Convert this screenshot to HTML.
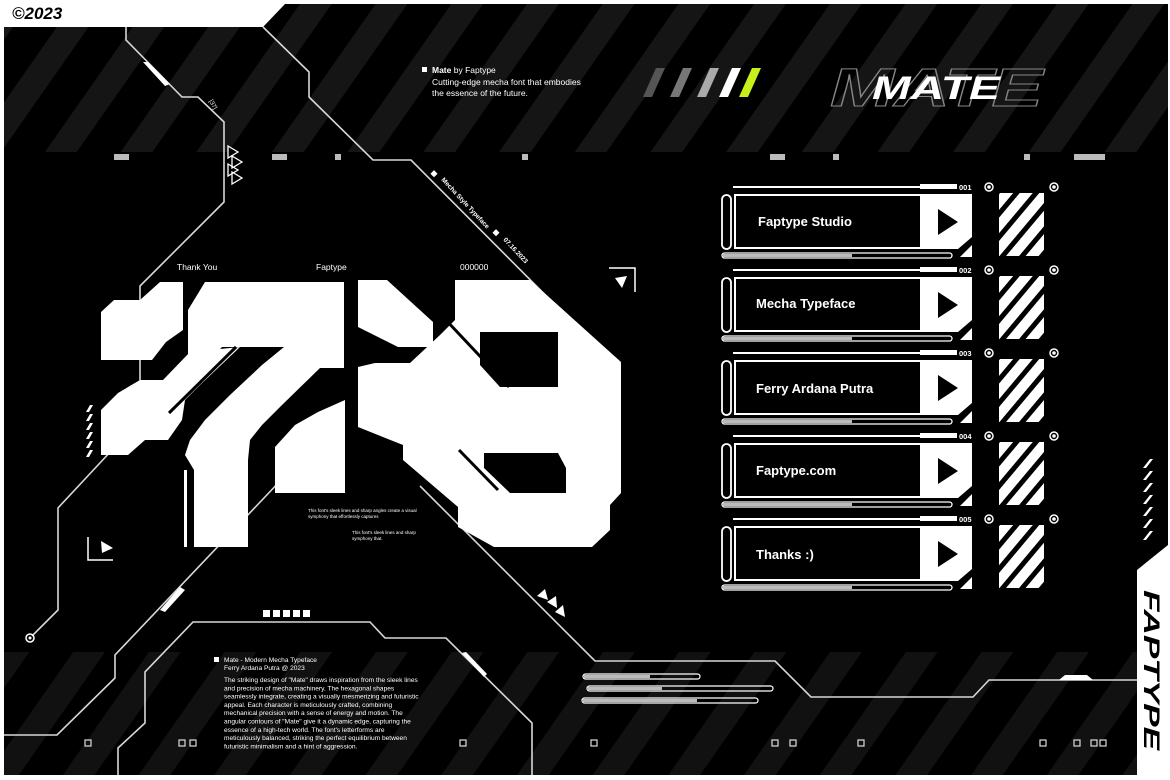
<!DOCTYPE html>
<html><head><meta charset="utf-8"><style>
html,body{margin:0;padding:0;background:#fff;}
svg{display:block;font-family:"Liberation Sans",sans-serif;}
</style></head><body>
<svg width="1170" height="780" viewBox="0 0 1170 780" xmlns="http://www.w3.org/2000/svg">
<defs>
<pattern id="st" width="62" height="62" patternUnits="userSpaceOnUse" patternTransform="rotate(35)"><rect width="26" height="62" fill="#151515"/></pattern>
<pattern id="sb" width="15" height="15" patternUnits="userSpaceOnUse" patternTransform="rotate(40)"><rect width="15" height="15" fill="#fff"/><rect width="5" height="15" fill="#000"/></pattern>
<g id="card">
  <line x1="733" y1="0" x2="920" y2="0" stroke="#fff" stroke-width="2"/>
  <rect x="920" y="-3" width="37" height="5" fill="#fff"/>
  <circle cx="989" cy="0" r="4" fill="none" stroke="#fff" stroke-width="1.5"/><circle cx="989" cy="0" r="1.8" fill="#fff"/>
  <circle cx="1054" cy="0" r="4" fill="none" stroke="#fff" stroke-width="1.5"/><circle cx="1054" cy="0" r="1.8" fill="#fff"/>
  <rect x="722" y="8" width="9" height="54" rx="4.5" fill="none" stroke="#fff" stroke-width="1.8"/>
  <rect x="735" y="8" width="200" height="53" fill="none" stroke="#fff" stroke-width="2"/>
  <polygon points="920,7 972,7 972,50 958,62 920,62" fill="#fff"/>
  <polygon points="938,22 958,35 938,48" fill="#000"/>
  <polygon points="960,70 972,58 972,70" fill="#fff"/>
  <rect x="722" y="66" width="230" height="5" rx="2.5" fill="none" stroke="#fff" stroke-width="1.3"/>
  <rect x="723" y="67" width="129" height="3" fill="#bbb"/>
  <rect x="999" y="6" width="45" height="63" fill="url(#sb)"/>
</g>
</defs>
<rect width="1170" height="780" fill="#fff"/>
<polygon points="4,27 263,27 285,4 1168,4 1168,545 1137,570 1137,775 4,775" fill="#000"/>
<polygon points="4,27 263,27 285,4 1168,4 1168,152 4,152" fill="url(#st)"/>
<rect x="4" y="652" width="1133" height="123" fill="url(#st)" opacity="0.8"/>

<text x="12" y="19" font-size="17" font-weight="bold" font-style="italic" fill="#000">©2023</text>

<!-- lines -->
<g fill="none" stroke="#d8d8d8" stroke-width="1.6">
<polyline points="126,27 126,40 182,97 198,97 224,122 224,202 140,286 140,420 58,508 58,610 32,636"/>
<polyline points="4,735 57,735 115,678 115,655 300,460"/>
<polyline points="263,27 309,72 309,97 373,160 411,160 610,360"/>
<polyline points="420,486 595,661 775,661 811,697 973,697 989,680 1137,680"/>
<polyline points="118,775 118,748 145,723 145,672 193,622 370,622 385,638 446,638 532,723 532,775"/>
</g>
<circle cx="30" cy="638" r="4" fill="none" stroke="#fff" stroke-width="1.5"/><circle cx="30" cy="638" r="1.5" fill="#fff"/>
<polygon points="143,62 148,62 170,84 165,86" fill="#fff"/>
<polygon points="160,610 180,587 185,590 165,612" fill="#fff"/>
<polygon points="462,653 466,652 487,674 484,677" fill="#fff"/>
<polygon points="1059,680 1065,675 1087,675 1093,680" fill="#fff"/>
<text x="0" y="0" font-size="6" fill="#fff" transform="translate(209,101) rotate(60)">[37]</text>
<g fill="none" stroke="#fff" stroke-width="1.3">
<polygon points="228,146 238,152 228,158"/><polygon points="232,156 242,162 232,168"/>
<polygon points="228,164 238,170 228,176"/><polygon points="232,172 242,178 232,184"/>
</g>

<!-- gray rects -->
<g fill="#bbb">
<rect x="114" y="154" width="15" height="6"/><rect x="272" y="154" width="15" height="6"/><rect x="335" y="154" width="6" height="6"/><rect x="522" y="154" width="6" height="6"/>
<rect x="770" y="154" width="15" height="6"/><rect x="833" y="154" width="6" height="6"/><rect x="1024" y="154" width="6" height="6"/><rect x="1074" y="154" width="31" height="6"/>
</g>

<!-- top info -->
<rect x="422" y="67" width="5" height="5" fill="#fff"/>
<text x="432" y="73" font-size="8.5" fill="#fff"><tspan font-weight="bold">Mate</tspan> by Faptype</text>
<text x="432" y="85" font-size="8.5" fill="#fff">Cutting-edge mecha font that embodies</text>
<text x="432" y="96" font-size="8.5" fill="#fff">the essence of the future.</text>
<polygon points="643,97 652,97 665,68 656,68" fill="#555"/>
<polygon points="670,97 679,97 692,68 683,68" fill="#777"/>
<polygon points="697,97 706,97 719,68 710,68" fill="#aaa"/>
<polygon points="719,97 728,97 741,68 732,68" fill="#fff"/>
<polygon points="739,97 748,97 761,68 752,68" fill="#c6ef1c"/>
<text x="830" y="106" font-size="54" font-weight="bold" font-style="italic" fill="none" stroke="#888" stroke-width="1" textLength="213" lengthAdjust="spacingAndGlyphs">MATE</text>
<text x="872" y="99" font-size="32" font-weight="bold" font-style="italic" fill="#fff" textLength="128" lengthAdjust="spacingAndGlyphs">MATE</text>

<!-- diagonal text -->
<rect x="432" y="171" width="5" height="5" fill="#fff" transform="rotate(45 434 173)"/>
<text font-size="6.5" font-weight="bold" fill="#fff" transform="translate(441,180) rotate(47)">Mecha Style Typeface</text>
<rect x="494" y="230" width="5" height="5" fill="#fff" transform="rotate(45 496 232)"/>
<text font-size="6.5" font-weight="bold" fill="#fff" transform="translate(503,240) rotate(47)">07.16.2023</text>

<text x="177" y="270" font-size="8.5" fill="#fff">Thank You</text>
<text x="316" y="270" font-size="8.5" fill="#fff">Faptype</text>
<text x="460" y="270" font-size="8.5" fill="#fff">000000</text>

<!-- brackets -->
<polyline points="609,268 635,268 635,292" fill="none" stroke="#fff" stroke-width="1.5"/>
<polygon points="615,278 627,276 622,288" fill="#fff"/>
<polyline points="88,537 88,560 113,560" fill="none" stroke="#fff" stroke-width="1.5"/>
<polygon points="101,541 113,548 102,553" fill="#fff"/>
<g fill="#fff">
<polygon points="86,412 90,405 93,405 89,412"/><polygon points="86,421 90,414 93,414 89,421"/><polygon points="86,430 90,423 93,423 89,430"/><polygon points="86,439 90,432 93,432 89,439"/><polygon points="86,448 90,441 93,441 89,448"/><polygon points="86,457 90,450 93,450 89,457"/>
<polygon points="1143,468 1150,459 1153,459 1146,468"/><polygon points="1143,480 1150,471 1153,471 1146,480"/><polygon points="1143,492 1150,483 1153,483 1146,492"/><polygon points="1143,504 1150,495 1153,495 1146,504"/><polygon points="1143,516 1150,507 1153,507 1146,516"/><polygon points="1143,528 1150,519 1153,519 1146,528"/><polygon points="1143,540 1150,531 1153,531 1146,540"/>
</g>

<!-- glyphs -->
<g fill="#fff">
<polygon points="101,312 114,300 140,300 160,282 183,282 183,330 166,342 152,360 101,360"/>
<polygon points="101,410 118,393 140,380 163,380 190,352 240,347 200,385 185,400 182,420 168,440 145,440 128,455 101,455"/>
<polygon points="188,335 188,310 205,282 344,282 344,368 320,368 282,405 262,425 250,440 248,460 248,547 194,547 194,470 185,455 190,440 205,420 230,395 262,365 284,347 222,347 200,370 188,370"/>
<rect x="184" y="470" width="3" height="77"/>
<polygon points="275,493 275,447 295,425 318,412 345,400 345,493"/>
<polygon points="358,280 387,280 433,322 433,347 398,347 358,327"/>
<polygon points="455,280 530,280 621,362 621,493 610,505 610,530 592,547 494,547 458,527 458,507 403,460 403,445 358,427 358,367 375,363 410,363 440,335 455,320"/>
</g>
<g fill="#000">
<polygon points="480,332 558,332 558,387 500,387 480,365"/>
<polygon points="484,453 558,453 566,468 566,493 510,493 484,468"/>
</g>
<g stroke="#000" stroke-width="3">
<line x1="444" y1="318" x2="509" y2="387"/><line x1="459" y1="450" x2="498" y2="490"/><line x1="236" y1="347" x2="169" y2="413"/><line x1="325" y1="370" x2="262" y2="432"/>
</g>
<line x1="534" y1="288" x2="600" y2="352" stroke="#fff" stroke-width="2"/>

<text x="308" y="512" font-size="4.5" fill="#fff">This font's sleek lines and sharp angles create a visual</text>
<text x="308" y="518" font-size="4.5" fill="#fff">symphony that effortlessly captures</text>
<text x="352" y="534" font-size="4.5" fill="#fff">This font's sleek lines and sharp</text>
<text x="352" y="540" font-size="4.5" fill="#fff">symphony that.</text>

<g fill="#fff">
<polygon points="537,596 545,589 548,600"/><polygon points="547,602 556,596 557,608"/><polygon points="555,612 563,605 565,617"/>
<rect x="263" y="610" width="7" height="7"/><rect x="273" y="610" width="7" height="7"/><rect x="283" y="610" width="7" height="7"/><rect x="293" y="610" width="7" height="7"/><rect x="303" y="610" width="7" height="7"/>
</g>

<!-- bottom text -->
<rect x="214" y="657" width="5" height="5" fill="#fff"/>
<g font-size="6.6" fill="#fff">
<text x="224" y="662">Mate - Modern Mecha Typeface</text>
<text x="224" y="670">Ferry Ardana Putra @ 2023</text>
<text x="224" y="682">The striking design of "Mate" draws inspiration from the sleek lines</text>
<text x="224" y="690.3">and precision of mecha machinery. The hexagonal shapes</text>
<text x="224" y="698.6">seamlessly integrate, creating a visually mesmerizing and futuristic</text>
<text x="224" y="706.9">appeal. Each character is meticulously crafted, combining</text>
<text x="224" y="715.2">mechanical precision with a sense of energy and motion. The</text>
<text x="224" y="723.5">angular contours of "Mate" give it a dynamic edge, capturing the</text>
<text x="224" y="731.8">essence of a high-tech world. The font's letterforms are</text>
<text x="224" y="740.1">meticulously balanced, striking the perfect equilibrium between</text>
<text x="224" y="748.4">futuristic minimalism and a hint of aggression.</text>
</g>

<!-- bottom progress bars -->
<g fill="none" stroke="#fff" stroke-width="1.2">
<rect x="583" y="674" width="117" height="5" rx="2.5"/><rect x="587" y="686" width="186" height="5" rx="2.5"/><rect x="582" y="698" width="176" height="5" rx="2.5"/>
</g>
<g fill="#bbb"><rect x="584" y="675" width="66" height="3"/><rect x="588" y="687" width="74" height="3"/><rect x="583" y="699" width="114" height="3"/></g>

<!-- small squares -->
<g fill="none" stroke="#ddd" stroke-width="1.2">
<rect x="85" y="740" width="6" height="6"/><rect x="179" y="740" width="6" height="6"/><rect x="190" y="740" width="6" height="6"/><rect x="460" y="740" width="6" height="6"/><rect x="591" y="740" width="6" height="6"/><rect x="772" y="740" width="6" height="6"/><rect x="790" y="740" width="6" height="6"/><rect x="858" y="740" width="6" height="6"/><rect x="1040" y="740" width="6" height="6"/><rect x="1074" y="740" width="6" height="6"/><rect x="1091" y="740" width="6" height="6"/><rect x="1100" y="740" width="6" height="6"/>
</g>

<!-- cards -->
<use href="#card" transform="translate(0,187)"/>
<use href="#card" transform="translate(0,270)"/>
<use href="#card" transform="translate(0,353)"/>
<use href="#card" transform="translate(0,436)"/>
<use href="#card" transform="translate(0,519)"/>
<g font-size="7.5" font-weight="bold" fill="#fff">
<text x="959" y="190">001</text><text x="959" y="273">002</text><text x="959" y="356">003</text><text x="959" y="439">004</text><text x="959" y="522">005</text>
</g>
<g font-size="13" font-weight="bold" fill="#fff">
<text x="758" y="226">Faptype Studio</text>
<text x="756" y="308">Mecha Typeface</text>
<text x="756" y="393">Ferry Ardana Putra</text>
<text x="756" y="475">Faptype.com</text>
<text x="756" y="559">Thanks :)</text>
</g>

<text font-size="22" font-weight="bold" font-style="italic" fill="#000" textLength="160" lengthAdjust="spacingAndGlyphs" transform="translate(1144,590) rotate(90)">FAPTYPE</text>
</svg>
</body></html>
